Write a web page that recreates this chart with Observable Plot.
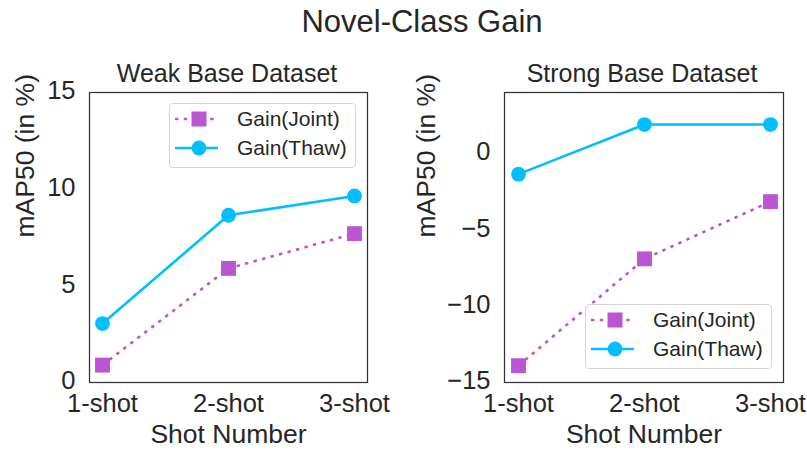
<!DOCTYPE html>
<html><head><meta charset="utf-8">
<script src="https://cdn.jsdelivr.net/npm/d3@7"></script>
<script src="https://cdn.jsdelivr.net/npm/@observablehq/plot@0.6"></script>
<style>
body{margin:0;background:#fff;font-family:"Liberation Sans",Arial,sans-serif;color:#262626}
#wrap{position:relative;width:807px;height:451px;overflow:hidden;background:#fff}
.t{position:absolute;white-space:nowrap;transform:translate(-50%,-50%);line-height:1;color:#262626}
.panel{position:absolute;top:0}
.legend{position:absolute;border:1px solid #d6d6d6;border-radius:4px;background:rgba(255,255,255,0.85);box-sizing:border-box}
</style></head><body><div id="wrap"></div><script>
// ---- data ----
const shots = ["1-shot", "2-shot", "3-shot"];
const seriesNames = ["Gain(Joint)", "Gain(Thaw)"];
const weakJoint = [0.9, 5.9, 7.7];
const weakThaw = [3.05, 8.65, 9.65];
const strongJoint = [-13.9, -6.9, -3.15];
const strongThaw = [-1.35, 1.9, 1.9];
const weakTicks = [0, 5, 10, 15];
const strongTicks = [0, -5, -10, -15];
const weakDomain = [0, 15];
const strongDomain = [-15, 4];
const mainTitle = "Novel-Class Gain";
const panelTitles = ["Weak Base Dataset", "Strong Base Dataset"];
const xLabel = "Shot Number";
const yLabel = "mAP50 (in %)";

const purple = "#BA55D3", blue = "#00BFFF";
const FONT = '"Liberation Sans", Arial, sans-serif';
const wrap = document.getElementById("wrap");

function addText(txt, x, y, size) {
  const d = document.createElement("div");
  d.className = "t"; d.textContent = txt;
  d.style.left = x + "px"; d.style.top = y + "px"; d.style.fontSize = size + "px";
  wrap.appendChild(d);
}

function panel({joint, thaw, domain, ticks, left, width, ml, mr, yLabelDx}) {
  const J = shots.map((s, i) => ({shot: s, v: joint[i]}));
  const T = shots.map((s, i) => ({shot: s, v: thaw[i]}));
  const svg = Plot.plot({
    width, height: 451,
    marginLeft: ml, marginRight: mr, marginTop: 92, marginBottom: 69,
    style: {fontFamily: FONT, fontSize: "25px", color: "#262626", background: "transparent", overflow: "visible"},
    x: {type: "point", domain: shots, padding: 0.1},
    y: {domain, nice: false},
    marks: [
      Plot.axisX({tickSize: 0, tickPadding: 11, fontSize: 25.5, label: null}),
      Plot.axisY({ticks, tickSize: 0, tickPadding: 14, fontSize: 25.5, dy: -1.5, label: null}),
      Plot.text([xLabel], {text: d => d, frameAnchor: "bottom", lineAnchor: "middle", dy: 52, fontSize: 26.5, fill: "#262626"}),
      Plot.text([yLabel], {text: d => d, frameAnchor: "left", lineAnchor: "middle", rotate: -90, dx: yLabelDx, fontSize: 26.5, fill: "#262626"}),
      Plot.frame({stroke: "#333", strokeWidth: 1.25}),
      Plot.line(J, {x: "shot", y: "v", stroke: purple, strokeWidth: 2.6, strokeDasharray: "3.4,5.4", strokeLinecap: "butt"}),
      Plot.dot(J, {x: "shot", y: "v", symbol: "square", r: 8.4, fill: purple, stroke: "none"}),
      Plot.line(T, {x: "shot", y: "v", stroke: blue, strokeWidth: 2.6}),
      Plot.dot(T, {x: "shot", y: "v", symbol: "circle", r: 7.4, fill: blue, stroke: "none"})
    ]
  });
  svg.classList.add("panel");
  svg.style.left = left + "px";
  wrap.appendChild(svg);
}

function legend(left, top) {
  const ns = "http://www.w3.org/2000/svg";
  const d = document.createElement("div");
  d.className = "legend";
  Object.assign(d.style, {left: left + "px", top: top + "px", width: "187px", height: "65px"});
  const svg = document.createElementNS(ns, "svg");
  svg.setAttribute("width", 187); svg.setAttribute("height", 65);
  svg.style.position = "absolute"; svg.style.left = "-1px"; svg.style.top = "-1px";
  const rows = [
    {name: seriesNames[0], color: purple, dash: "3.4,5.4", sym: "square"},
    {name: seriesNames[1], color: blue, dash: null, sym: "circle"}
  ];
  rows.forEach((r, i) => {
    const y = 16 + i * 29;
    const ln = document.createElementNS(ns, "line");
    ln.setAttribute("x1", 6); ln.setAttribute("x2", 49); ln.setAttribute("y1", y); ln.setAttribute("y2", y);
    ln.setAttribute("stroke", r.color); ln.setAttribute("stroke-width", 2.6);
    if (r.dash) ln.setAttribute("stroke-dasharray", r.dash);
    svg.appendChild(ln);
    let m;
    if (r.sym === "square") {
      m = document.createElementNS(ns, "rect");
      m.setAttribute("x", 30 - 7.5); m.setAttribute("y", y - 7.5); m.setAttribute("width", 15); m.setAttribute("height", 15);
    } else {
      m = document.createElementNS(ns, "circle");
      m.setAttribute("cx", 30); m.setAttribute("cy", y); m.setAttribute("r", 7.4);
    }
    m.setAttribute("fill", r.color);
    svg.appendChild(m);
    const t = document.createElementNS(ns, "text");
    t.setAttribute("x", 68); t.setAttribute("y", y); t.setAttribute("dy", "0.35em");
    t.setAttribute("font-size", 21); t.setAttribute("font-family", FONT); t.setAttribute("fill", "#262626");
    t.textContent = r.name;
    svg.appendChild(t);
  });
  d.appendChild(svg);
  wrap.appendChild(d);
}

panel({joint: weakJoint, thaw: weakThaw, domain: weakDomain, ticks: weakTicks, left: 0, width: 400, ml: 89, mr: 33, yLabelDx: -63.5});
panel({joint: strongJoint, thaw: strongThaw, domain: strongDomain, ticks: strongTicks, left: 400, width: 407, ml: 104, mr: 24, yLabelDx: -78});

addText(mainTitle, 422, 21, 31);
addText(panelTitles[0], 227, 73, 25);
addText(panelTitles[1], 642, 73, 25);

legend(169, 103);
legend(585, 304);
</script></body></html>
